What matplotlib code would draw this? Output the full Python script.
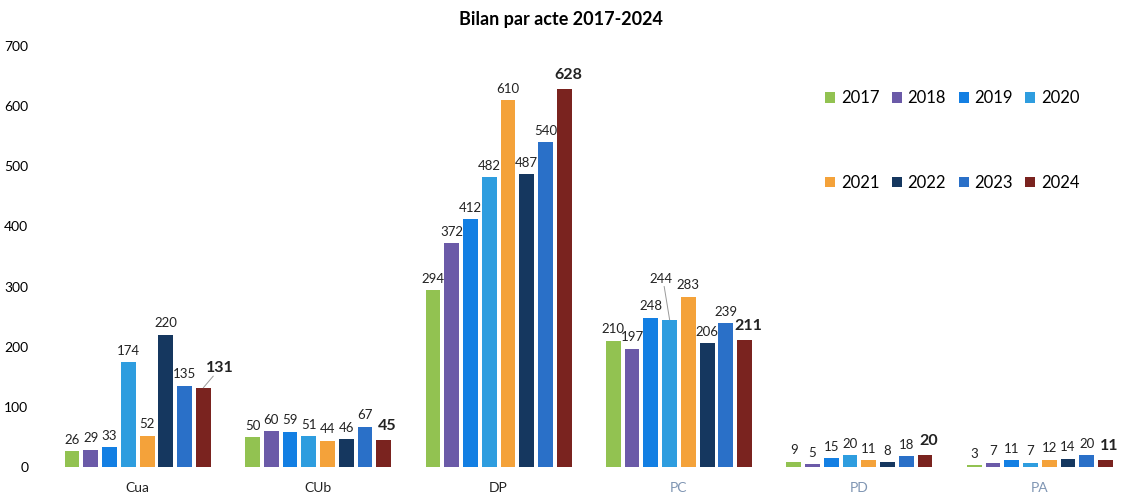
import matplotlib
matplotlib.use("Agg")
import matplotlib.pyplot as plt
import numpy as np

plt.rcParams["font.family"] = ["Lato", "DejaVu Sans"]

# Data
categories = ["Cua", "CUb", "DP", "PC", "PD", "PA"]
years = ["2017", "2018", "2019", "2020", "2021", "2022", "2023", "2024"]
values = {
    "2017": [26, 50, 294, 210, 9, 3],
    "2018": [29, 60, 372, 197, 5, 7],
    "2019": [33, 59, 412, 248, 15, 11],
    "2020": [174, 51, 482, 244, 20, 7],
    "2021": [52, 44, 610, 283, 11, 12],
    "2022": [220, 46, 487, 206, 8, 14],
    "2023": [135, 67, 540, 239, 18, 20],
    "2024": [131, 45, 628, 211, 20, 11],
}

COLORS = {
    "2017": "#92c251",
    "2018": "#6b5aa8",
    "2019": "#137fe3",
    "2020": "#2e9ddf",
    "2021": "#f4a23a",
    "2022": "#15375f",
    "2023": "#2a70c8",
    "2024": "#7a231f",
}
CAT_COLORS = ["#222222", "#222222", "#222222", "#7f95b3", "#7f95b3", "#7f95b3"]

# labels moved off their bar (with a small leader line), as in the original
MOVED = {("2024", 0): (0.09, 22), ("2020", 3): (-0.05, 58)}

fig = plt.figure(figsize=(11.21, 4.93), dpi=100)
ax = fig.add_axes([0.04, 0.0527, 0.96, 0.854])

x = np.arange(len(categories))
pitch = 0.104
width = 0.082
for i, yr in enumerate(years):
    offs = (i - 3.5) * pitch
    bars = ax.bar(x + offs, values[yr], width, color=COLORS[yr], label=yr)
    last = yr == "2024"
    for j, (bar, v) in enumerate(zip(bars, values[yr])):
        cx = bar.get_x() + bar.get_width() / 2
        tx, ty = cx + (0.02 if last else 0), v + (12 if last else 9)
        if (yr, j) in MOVED:
            dx, dy = MOVED[(yr, j)]
            tx, ty = cx + dx, v + dy
            ax.plot([cx + dx * 0.6, cx], [ty - 2, v + 1], color="#999999", lw=0.7)
        ax.text(tx, ty, str(v), ha="center", va="bottom",
                fontsize=11.5 if last else 9.5,
                fontweight="bold" if last else "normal", color="#222222")

ax.set_xlim(-0.515, 5.45)
ax.set_ylim(0, 700)
ax.set_yticks(range(0, 701, 100))
ax.set_xticks(x)
ax.set_xticklabels(categories, fontsize=10)
for lbl, c in zip(ax.get_xticklabels(), CAT_COLORS):
    lbl.set_color(c)
ax.tick_params(axis="both", length=0)
ax.tick_params(axis="x", pad=11)
ax.tick_params(axis="y", pad=12, labelsize=10)
for s in ax.spines.values():
    s.set_visible(False)

fig.suptitle("Bilan par acte 2017-2024", x=0.5, y=0.978, fontsize=13,
             fontweight="bold")

# legend: two rows of four, column-major order
handles, labels = ax.get_legend_handles_labels()
order = [0, 4, 1, 5, 2, 6, 3, 7]
ax.legend([handles[k] for k in order], [labels[k] for k in order],
          ncol=4, loc="upper left", bbox_to_anchor=(0.711, 0.93),
          frameon=False, fontsize=12, handlelength=0.6, handleheight=0.6,
          handletextpad=0.35, columnspacing=0.75, labelspacing=4.1)

plt.savefig("out.png", dpi=100)
